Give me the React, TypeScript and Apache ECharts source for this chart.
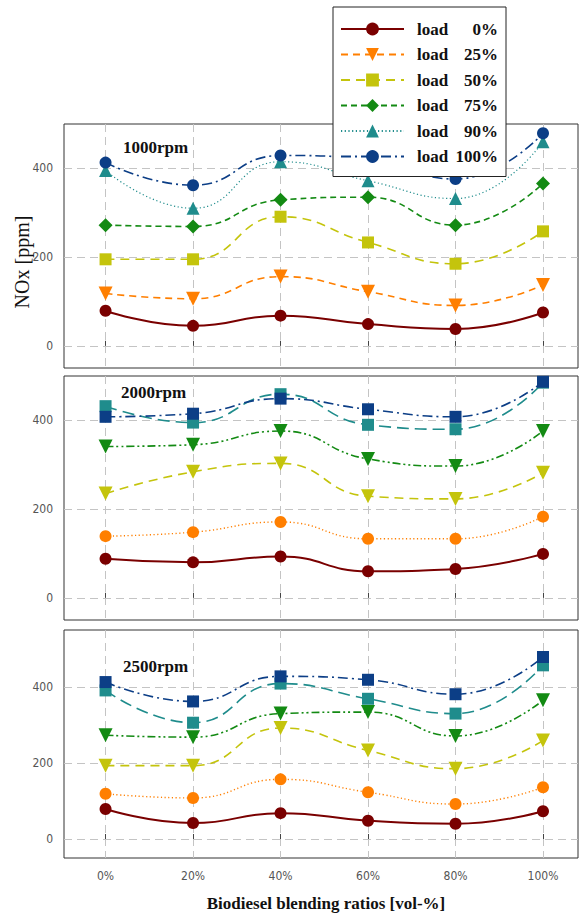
import React, { useEffect, useRef } from 'react';
import * as echarts from 'echarts';

const blendRatios = [0, 20, 40, 60, 80, 100];
const loadNames = ['load 0%', 'load 25%', 'load 50%', 'load 75%', 'load 90%', 'load 100%'];
const yTicks = [0, 200, 400];
const panelLabels = ['1000rpm', '2000rpm', '2500rpm'];
const panelYMax = [500, 500, 550];

// 1000 rpm
const rpm1000Load0 = [79, 45, 68, 49, 38, 75];
const rpm1000Load25 = [118, 106, 156, 122, 91, 137];
const rpm1000Load50 = [195, 195, 291, 233, 185, 258];
const rpm1000Load75 = [272, 269, 329, 335, 272, 366];
const rpm1000Load90 = [395, 310, 415, 372, 332, 460];
const rpm1000Load100 = [413, 362, 429, 420, 376, 479];

// 2000 rpm
const rpm2000Load0 = [88, 80, 93, 60, 65, 99];
const rpm2000Load25 = [139, 148, 171, 133, 133, 183];
const rpm2000Load50 = [235, 284, 303, 229, 223, 282];
const rpm2000Load75 = [341, 345, 376, 313, 297, 376];
const rpm2000Load90 = [432, 395, 459, 390, 380, 485];
const rpm2000Load100 = [408, 415, 449, 425, 408, 487];

// 2500 rpm
const rpm2500Load0 = [79, 42, 68, 48, 40, 73];
const rpm2500Load25 = [119, 108, 157, 123, 92, 136];
const rpm2500Load50 = [193, 193, 292, 233, 185, 259];
const rpm2500Load75 = [273, 268, 330, 334, 271, 365];
const rpm2500Load90 = [391, 306, 409, 369, 330, 457];
const rpm2500Load100 = [413, 362, 428, 419, 381, 479];

const panels = [
  [rpm1000Load0, rpm1000Load25, rpm1000Load50, rpm1000Load75, rpm1000Load90, rpm1000Load100],
  [rpm2000Load0, rpm2000Load25, rpm2000Load50, rpm2000Load75, rpm2000Load90, rpm2000Load100],
  [rpm2500Load0, rpm2500Load25, rpm2500Load50, rpm2500Load75, rpm2500Load90, rpm2500Load100],
];

const colors = ['#7a0000', '#ff7f00', '#c4c40c', '#138a13', '#1f8c8c', '#0c3e86'];

const styleA = {
  symbols: ['circle', 'triangle', 'rect', 'diamond', 'triangle', 'circle'],
  rotate: [0, 180, 0, 0, 0, 0],
  sizes: [12, 14, 12, 14, 13, 12],
  dash: ['solid', [7, 5], [9, 6], [6, 4], [1.2, 2.5], [10, 4, 2, 4]] as any[],
  widths: [2, 1.6, 1.6, 1.6, 1.2, 1.6],
};
const styleB = {
  symbols: ['circle', 'circle', 'triangle', 'triangle', 'rect', 'rect'],
  rotate: [0, 0, 180, 180, 0, 0],
  sizes: [12, 12, 14, 14, 12, 12],
  dash: ['solid', [1.2, 2.5], [9, 6], [8, 3, 2, 3, 2, 3], [12, 6], [10, 4, 2, 4]] as any[],
  widths: [2, 1.4, 1.6, 1.6, 1.6, 1.6],
};
const panelStyles = [styleA, styleB, styleB];

const grids = [
  { left: 64, top: 124, width: 514, height: 244 },
  { left: 64, top: 376, width: 514, height: 244 },
  { left: 64, top: 630, width: 514, height: 228 },
];

const labelFont = "'Liberation Sans Narrow', 'DejaVu Sans Condensed', 'Liberation Sans', sans-serif";
const serif = "'Liberation Serif', 'Times New Roman', serif";

export default function App() {
  const ref = useRef<HTMLDivElement>(null);
  useEffect(() => {
    if (!ref.current) return;
    const chart = echarts.init(ref.current, undefined, { renderer: 'svg' });
    const gridLine = { show: true, lineStyle: { color: '#c4c4c4', type: [8, 5], width: 1 } };

    const series: any[] = [];
    panels.forEach((panel, p) => {
      const st = panelStyles[p];
      panel.forEach((vals, k) => {
        series.push({
          type: 'line',
          name: loadNames[k],
          xAxisIndex: p,
          yAxisIndex: p,
          data: vals.map((v, i) => [blendRatios[i], v]),
          smooth: 0.5,
          symbol: st.symbols[k],
          symbolRotate: st.rotate[k],
          symbolSize: st.sizes[k],
          showSymbol: true,
          color: colors[k],
          itemStyle: { color: colors[k] },
          lineStyle: { color: colors[k], width: st.widths[k], type: st.dash[k] },
          z: 2 + k * 0.01,
        });
      });
    });

    const option: any = {
      animation: false,
      backgroundColor: '#ffffff',
      grid: grids.map((g) => ({ ...g, show: true, borderColor: '#333', borderWidth: 1, backgroundColor: 'transparent' })),
      xAxis: grids.map((_, i) => ({
        type: 'value',
        gridIndex: i,
        min: -9.5,
        max: 108,
        axisLine: { show: false },
        axisTick: { show: true, inside: true, length: 5, customValues: blendRatios, lineStyle: { color: '#444' } },
        axisLabel: {
          show: i === 2,
          customValues: blendRatios,
          formatter: '{value}%',
          color: '#555',
          fontSize: 12,
          fontFamily: labelFont,
          margin: 12,
        },
        splitLine: gridLine,
      })),
      yAxis: grids.map((_, i) => ({
        type: 'value',
        gridIndex: i,
        min: -50,
        max: panelYMax[i],
        axisLine: { show: false },
        axisTick: { show: false, customValues: yTicks },
        axisLabel: { customValues: yTicks, color: '#555', fontSize: 12, fontFamily: labelFont, margin: 11 },
        splitLine: gridLine,
      })),
      legend: {
        data: loadNames,
        orient: 'vertical',
        left: 333,
        top: 7,
        padding: [13, 8, 11, 7],
        itemGap: 7.5,
        itemWidth: 63,
        itemHeight: 16,
        backgroundColor: '#ffffff',
        borderColor: '#222',
        borderWidth: 1,
        borderRadius: 0,
        selectedMode: false,
        formatter: (name: string) => `{g| }{a|load}{b|${name.replace('load ', '')}}`,
        textStyle: {
          fontFamily: serif,
          fontWeight: 'bold',
          fontSize: 17,
          color: '#111',
          lineHeight: 18,
          rich: {
            g: { width: 8, fontSize: 17, lineHeight: 18 },
            a: { width: 36, fontFamily: serif, fontWeight: 'bold', fontSize: 17, lineHeight: 18, color: '#111' },
            b: { width: 45, align: 'right', fontFamily: serif, fontWeight: 'bold', fontSize: 17, lineHeight: 18, color: '#111' },
          },
        },
      },
      graphic: [
        ...panelLabels.map((t, i) => ({
          type: 'text',
          left: [123, 121, 123][i],
          top: [139, 384, 658][i],
          z: 10,
          style: { text: t, font: `bold 17px ${serif}`, fill: '#111' },
        })),
        {
          type: 'text',
          x: 22,
          y: 262,
          rotation: Math.PI / 2,
          style: { text: 'NOx [ppm]', font: `20px ${serif}`, fill: '#111', align: 'center', verticalAlign: 'middle' },
        },
        {
          type: 'text',
          x: 326,
          y: 903,
          style: { text: 'Biodiesel blending ratios [vol-%]', font: `bold 17px ${serif}`, fill: '#111', align: 'center', verticalAlign: 'middle' },
        },
      ],
      series,
    };
    chart.setOption(option);
    return () => chart.dispose();
  }, []);
  return <div ref={ref} style={{ position: 'absolute', left: 0, top: 0, width: 583, height: 916 }} />;
}
